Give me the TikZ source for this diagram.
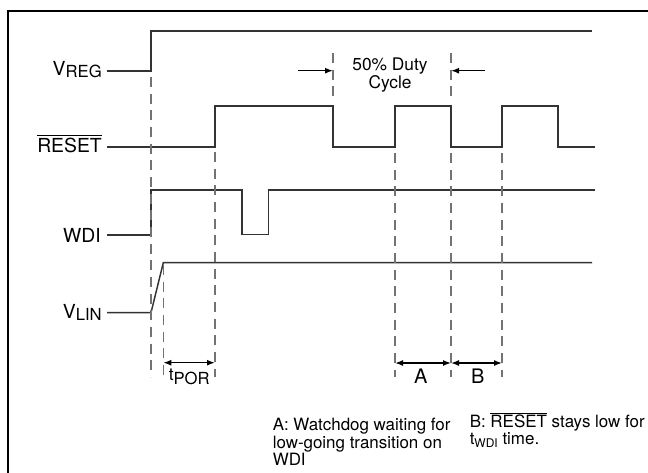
\documentclass[tikz,border=0pt]{standalone}
\usepackage{fontspec}
\setmainfont{TeX Gyre Heros}
\usetikzlibrary{arrows.meta}
\newcommand\lbsub[1]{\raisebox{-1.6pt}{\fontsize{12.5}{14}\selectfont #1}}
\newcommand\ovl[1]{$\overline{\mbox{#1}}$}
\begin{document}
\begin{tikzpicture}[x=0.75pt,y=-0.75pt,
  sig/.style={line width=1.1pt, draw=black!80, line join=miter},
  vdash/.style={draw=black!55, line width=0.8pt, dash pattern=on 7.5pt off 5pt},
  lbl/.style={font=\fontsize{14.5}{17}\selectfont, inner sep=0pt, anchor=base east},
  dimarr/.style={line width=1.1pt, {Latex[length=6pt,width=4.5pt]}-{Latex[length=6pt,width=4.5pt]}},
  onearr/.style={line width=1pt, -{Latex[length=6pt,width=4.5pt]}},
  note/.style={font=\fontsize{12.7}{9.75}\selectfont, inner sep=0pt, align=left, anchor=north west},
  big/.style={font=\fontsize{15}{17}\selectfont, inner sep=0pt, anchor=base},
]
\useasboundingbox (0,0) rectangle (648,472);
\clip (0,0) rectangle (648,472);
\draw[line width=1.6pt] (8,11) rectangle (680,500);

% labels
\node[lbl] (vreg) at (102,75) {V\lbsub{REG}};
\node[lbl] (rst) at (102,152) {\ovl{RESET}};
\node[lbl] (wdi) at (101,242.5) {WDI};
\node[lbl] (vlin) at (102,318.5) {V\lbsub{LIN}};

% waveforms
\draw[sig] (107,71) -- (151,71) -- (151,31) -- (592,31);
\draw[sig] (107,147) -- (215,147) -- (215,106) -- (333,106) -- (333,147) -- (395,147)
  -- (395,106) -- (451,106) -- (451,147) -- (502,147) -- (502,106) -- (558,106)
  -- (558,147) -- (595,147);
\draw[sig] (107,235) -- (151,235) -- (151,190) -- (242,190) -- (242,234.5) -- (268.5,234.5)
  -- (268.5,190) -- (595,190);
\draw[sig] (107,312.7) -- (151,312.7) -- (163.3,262.7) -- (592,262.7);

% dashed guide lines
\coordinate (g1t) at (151,77);    \coordinate (g1b) at (151,377);
\coordinate (g2t) at (163.3,265); \coordinate (g2b) at (163.3,377);
\coordinate (g3t) at (215,152);   \coordinate (g3b) at (215,377);
\coordinate (g4t) at (333,53);    \coordinate (g4b) at (333,98);
\coordinate (g5t) at (451,53);    \coordinate (g5b) at (451,98);
\coordinate (g6t) at (395,153);   \coordinate (g6b) at (395,377);
\coordinate (g7t) at (451,153);   \coordinate (g7b) at (451,377);
\coordinate (g8t) at (502,153);   \coordinate (g8b) at (502,377);
\foreach \g in {1,...,8} {\draw[vdash] (g\g t) -- (g\g b);}

% duty cycle arrows
\coordinate (dl) at (298,70.7); \coordinate (dle) at (333,70.7);
\coordinate (dr) at (485,70.7); \coordinate (dre) at (451,70.7);
\draw[onearr] (dl) -- (dle);
\draw[onearr] (dr) -- (dre);
\node[font=\fontsize{13}{12}\selectfont, inner sep=0pt, anchor=north, align=center] (duty) at (390,58) {50\% Duty\\Cycle};

% dimension arrows
\coordinate (p1) at (163.3,362.7); \coordinate (p2) at (215,362.7);
\coordinate (a1) at (395,363); \coordinate (a2) at (451,363); \coordinate (a3) at (502,363);
\draw[dimarr] (p1) -- (p2);
\draw[dimarr] (a1) -- (a2);
\draw[dimarr] (a2) -- (a3);
\node[inner sep=0pt, anchor=base west, font=\fontsize{13}{15}\selectfont] (tpor) at (168.5,380) {t\raisebox{-3pt}{\fontsize{12.5}{14}\selectfont POR}};
\node[big] (lA) at (420.8,383.3) {A};
\node[big] (lB) at (477.8,383.3) {B};

% notes
\node[note] (noteA) at (272.5,418) {A: Watchdog waiting for\\low-going transition on\\WDI};
\node[note] (noteB) at (469.5,412) {B: \ovl{RESET} stays low for\\t\raisebox{-2pt}{\fontsize{9}{10}\selectfont WDI} time.};
\end{tikzpicture}
\end{document}
